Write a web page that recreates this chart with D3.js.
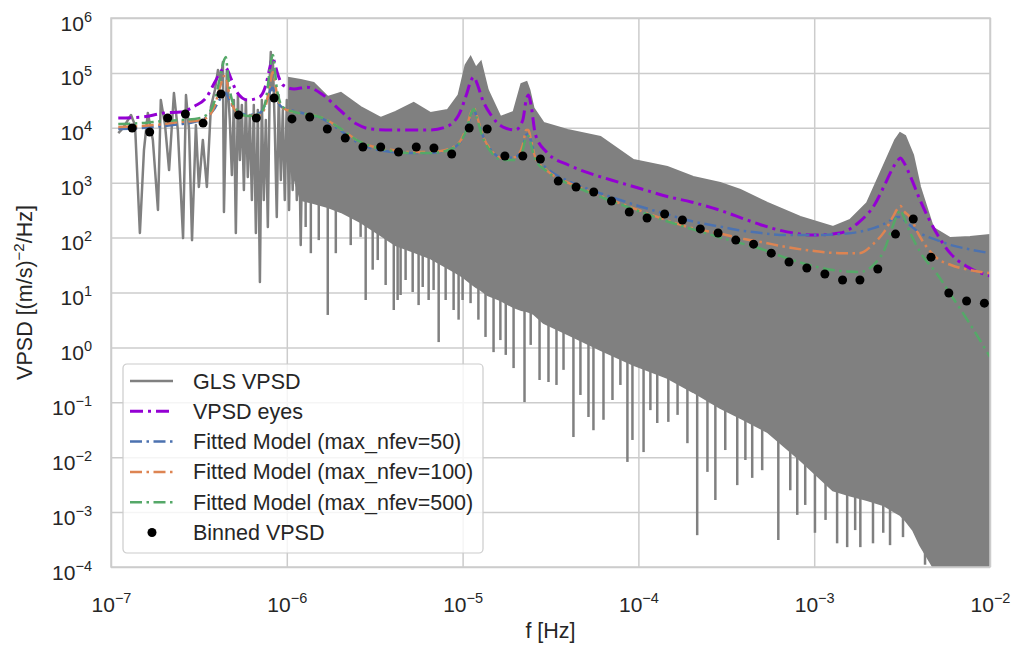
<!DOCTYPE html>
<html>
<head>
<meta charset="utf-8">
<script src="https://cdn.jsdelivr.net/npm/d3@7/dist/d3.min.js"></script>
<style>
  body { margin: 0; background: #fff; }
  svg { font-family: "Liberation Sans", Arial, sans-serif; }
</style>
</head>
<body>
<svg id="chart" width="1014" height="645"></svg>
<script>
// ---- data ----
const xTickVals = [1e-7, 1e-6, 1e-5, 1e-4, 1e-3, 1e-2];
const yTickVals = [1e-4, 1e-3, 1e-2, 1e-1, 1e0, 1e1, 1e2, 1e3, 1e4, 1e5, 1e6];

// GLS periodogram, low-frequency part (individual strokes)
const glsLowFreq = [1.10e-7,1.17e-7,1.30e-7,1.37e-7,1.46e-7,1.54e-7,1.62e-7,1.73e-7,1.85e-7,1.92e-7,
  2.03e-7,2.14e-7,2.28e-7,2.40e-7,2.57e-7,2.67e-7,2.78e-7,2.89e-7,3.04e-7,3.16e-7,
  3.33e-7,3.51e-7,3.70e-7,3.90e-7,4.06e-7,4.22e-7,4.33e-7,4.39e-7,4.56e-7,
  4.74e-7,4.87e-7,5.00e-7,5.13e-7,5.27e-7,5.41e-7,5.55e-7,5.70e-7,5.85e-7,6.00e-7,
  6.16e-7,6.33e-7,6.49e-7,6.67e-7,6.84e-7,7.03e-7,7.21e-7,7.40e-7,7.60e-7,7.80e-7,
  8.01e-7,8.11e-7,8.22e-7,8.33e-7,8.55e-7,8.77e-7,9.00e-7,9.25e-7,9.49e-7,9.74e-7,
  1.00e-6,1.03e-6,1.05e-6,1.08e-6,1.11e-6,1.14e-6,1.17e-6,1.20e-6,1.23e-6];
const glsLowVpsd = [8.0e3,9.9e3,1.71e4,1.12e4,121,3.94e3,1.86e4,6.0e3,318,3.21e4,
  1.12e4,1.70e3,4.31e4,9.1e3,98,3.96e4,9.1e3,90,1.12e4,835,
  6.0e3,835,2.39e4,4.89e4,1.13e5,7.43e4,1.58e5,293,1.13e5,
  1.39e4,1.38e3,3.21e4,121,3.96e4,2.59e3,2.60e4,736,3.21e4,1.27e3,
  1.71e4,484,2.60e4,121,2.11e4,15.5,3.21e4,484,1.39e4,156,
  9.16e4,2.40e5,4.89e4,1.72e5,9.1e3,237,3.96e4,1.12e3,2.11e4,484,
  3.21e4,318,1.71e4,736,2.60e4,484,2.11e4,73,1.39e4];

// GLS periodogram, dense part: top edge and bottom of the solid band
const bandFreq = [1.03e-6,1.20e-6,1.42e-6,1.71e-6,2.03e-6,2.63e-6,3.42e-6,4.16e-6,5.27e-6,6.58e-6,
  8.22e-6,9.49e-6,1.04e-5,1.11e-5,1.19e-5,1.27e-5,1.39e-5,1.64e-5,1.95e-5,2.16e-5,
  2.31e-5,2.40e-5,2.53e-5,2.89e-5,3.95e-5,6.08e-5,9.37e-5,1.46e-4,2.05e-4,2.92e-4,
  3.80e-4,5.41e-4,8.33e-4,1.28e-3,1.60e-3,2.00e-3,2.47e-3,2.89e-3,3.08e-3,3.29e-3,
  3.65e-3,4.00e-3,4.75e-3,5.93e-3,7.70e-3,1e-2];
const bandTop = [8.07e4,7.43e4,6.55e4,3.64e4,4.31e4,2.39e4,1.51e4,1.94e4,2.83e4,1.86e4,
  2.11e4,3.96e4,1.39e5,1.95e5,1.23e5,1.58e5,4.89e4,1.57e4,1.94e4,6.28e4,
  6.82e4,4.89e4,2.30e4,1.22e4,9.1e3,6.8e3,2.59e3,1.93e3,1.27e3,989,
  736,427,237,156,209,427,1.93e3,6.0e3,8.0e3,7.1e3,
  3.20e3,835,150,98,103,111];
const bandBase = [2.59e3,484,427,361,293,192,111,73,55,42,
  28,21.7,17.6,14.9,12.6,11.1,9.0,7.3,5.4,4.8,
  4.6,4.4,4.1,2.8,1.75,0.90,0.48,0.28,0.154,0.079,
  0.052,0.029,0.0089,0.0025,0.0020,0.00166,0.00135,0.00100,0.00089,0.00072,
  0.00047,0.00025,1e-4,1e-4,1e-4,1e-4];

// deep dips below the band
const dipFreq = [1.28e-6,1.37e-6,1.52e-6,1.71e-6,1.90e-6,2.31e-6,2.63e-6,2.81e-6,3.08e-6,3.29e-6,
  3.65e-6,4.06e-6,4.27e-6,4.44e-6,4.74e-6,5.20e-6,5.62e-6,5.93e-6,6.41e-6,6.84e-6,
  7.31e-6,8.01e-6,8.89e-6,9.49e-6,1.00e-5,1.11e-5,1.23e-5,1.35e-5,1.50e-5,1.64e-5,
  1.76e-5,1.95e-5,2.25e-5,2.44e-5,2.74e-5,3.08e-5,3.42e-5,3.75e-5,4.27e-5,4.68e-5,
  5.20e-5,5.55e-5,6.33e-5,7.12e-5,7.90e-5,8.66e-5,9.25e-5,1.07e-4,1.17e-4,1.28e-4,
  1.48e-4,1.67e-4,1.90e-4,2.16e-4,2.47e-4,2.74e-4,3.12e-4,3.65e-4,4.06e-4,4.44e-4,
  5.06e-4,6.25e-4,7.31e-4,8.01e-4,8.89e-4,1.01e-3,1.16e-3,1.35e-3,1.54e-3,1.71e-3,
  1.83e-3,2.16e-3,2.47e-3,2.70e-3,3.20e-3,3.85e-3,4.27e-3];
const dipVpsd = [156,52,90,3.9,52,73,103,7.3,26,39,
  13.7,4.8,7.3,9.0,16.9,10.2,5.9,12.6,7.3,11.1,
  1.25,7.3,4.8,3.2,7.3,6.4,3.2,1.55,0.82,1.36,
  0.73,0.42,0.101,1.11,0.255,0.234,0.207,0.39,0.0233,0.136,
  0.054,0.031,0.048,0.110,0.207,0.0082,0.0206,0.0124,0.072,0.042,
  0.044,0.059,0.018,3.8e-4,0.0054,0.00166,0.0135,0.0031,0.0089,0.0042,
  0.0058,3.1e-4,0.0025,8.9e-4,0.00135,4.2e-4,7.2e-4,2.7e-4,2.3e-4,4.7e-4,
  2.3e-4,2.7e-4,4.2e-4,2.5e-4,3.5e-4,3.5e-4,1.1e-4];

// model curves, sampled at the same frequencies
const modelFreq = [1.1e-7,1.5e-7,2e-7,2.5e-7,3e-7,3.5e-7,3.9e-7,4.2e-7,4.4e-7,4.5e-7,
  4.6e-7,4.8e-7,5.2e-7,6e-7,7e-7,7.6e-7,8e-7,8.2e-7,8.35e-7,8.5e-7,
  8.8e-7,9.5e-7,1.1e-6,1.3e-6,1.6e-6,2e-6,2.5e-6,3e-6,4e-6,5e-6,
  6.5e-6,8e-6,9.5e-6,1.05e-5,1.12e-5,1.16e-5,1.2e-5,1.3e-5,1.45e-5,1.7e-5,
  2e-5,2.2e-5,2.3e-5,2.37e-5,2.45e-5,2.6e-5,3e-5,4e-5,5e-5,7e-5,
  1e-4,1.5e-4,2e-4,3e-4,4e-4,5e-4,7e-4,1e-3,1.4e-3,1.8e-3,
  2.2e-3,2.5e-3,2.8e-3,3e-3,3.1e-3,3.2e-3,3.5e-3,4e-3,5e-3,6e-3,
  7.5e-3,1e-2];
const eyesVpsd = [1.51e4,1.57e4,1.86e4,1.94e4,2.50e4,3.64e4,6.82e4,1.04e5,1.23e5,1.23e5,
  1.13e5,8.07e4,4.49e4,3.21e4,3.64e4,6.02e4,1.23e5,1.72e5,1.87e5,1.58e5,
  1.04e5,6.02e4,5.09e4,5.5e4,4.0e4,2.11e4,1.17e4,9.5e3,9.1e3,9.1e3,
  9.1e3,1.03e4,1.71e4,3.96e4,7.43e4,8.41e4,6.82e4,3.21e4,1.71e4,1.03e4,
  9.1e3,1.39e4,3.21e4,3.96e4,2.60e4,7.4e3,3.62e3,2.10e3,1.57e3,1.12e3,
  800,549,445,305,218,170,127,111,121,192,
  393,871,1.85e3,2.59e3,2.82e3,2.48e3,1.38e3,484,116,50,
  29,20];
const fit50Vpsd = [9.5e3,9.9e3,1.08e4,1.17e4,1.28e4,1.57e4,2.30e4,3.49e4,4.31e4,4.31e4,
  3.79e4,2.83e4,2.02e4,1.71e4,1.86e4,2.83e4,4.49e4,5.31e4,5.31e4,4.49e4,
  3.21e4,2.30e4,2.02e4,1.78e4,1.45e4,9.1e3,5.51e3,4.29e3,3.62e3,3.47e3,
  3.47e3,3.78e3,5.07e3,9.1e3,1.78e4,2.11e4,1.64e4,7.4e3,3.94e3,2.82e3,
  2.94e3,4.47e3,7.4e3,7.7e3,5.75e3,2.94e3,1.85e3,1.07e3,800,549,
  377,258,200,156,132,121,111,111,116,127,
  150,177,218,237,237,218,170,121,90,73,
  62,52];
const fit100Vpsd = [1.03e4,1.08e4,1.17e4,1.28e4,1.33e4,1.51e4,2.60e4,6.02e4,8.79e4,8.79e4,
  6.02e4,3.21e4,1.94e4,1.64e4,1.71e4,2.60e4,6.02e4,9.16e4,1.04e5,8.07e4,
  3.96e4,2.30e4,1.94e4,1.78e4,1.51e4,9.9e3,6.0e3,4.66e3,3.94e3,3.62e3,
  3.62e3,3.94e3,5.28e3,9.9e3,1.94e4,2.30e4,1.71e4,7.4e3,3.94e3,2.82e3,
  2.94e3,4.86e3,9.1e3,9.1e3,6.0e3,2.82e3,1.70e3,989,736,484,
  318,200,150,116,94,83,67,57,52,52,
  80,127,237,346,377,318,237,103,42,31.7,
  26,22.6];
const fit500Vpsd = [1.17e4,1.22e4,1.33e4,1.39e4,1.45e4,1.71e4,3.21e4,9.16e4,1.72e5,1.95e5,
  1.13e5,3.96e4,2.11e4,1.64e4,1.78e4,3.21e4,1.13e5,1.87e5,2.12e5,1.39e5,
  4.89e4,2.39e4,1.94e4,1.78e4,1.51e4,9.9e3,6.0e3,4.66e3,3.78e3,3.47e3,
  3.47e3,3.78e3,5.07e3,9.1e3,1.86e4,2.20e4,1.57e4,6.8e3,3.62e3,2.59e3,
  2.59e3,3.94e3,6.8e3,7.1e3,4.86e3,2.59e3,1.63e3,947,706,465,
  305,192,144,98,76,62,42,30,24.7,23.6,
  33,59,163,281,318,258,127,55,21.7,9.0,
  3.03,0.67];

// binned periodogram
const binFreq = [1.32e-7,1.66e-7,2.10e-7,2.65e-7,3.34e-7,4.22e-7,5.32e-7,6.71e-7,8.47e-7,1.07e-6,
  1.35e-6,1.70e-6,2.15e-6,2.71e-6,3.42e-6,4.32e-6,5.45e-6,6.87e-6,8.67e-6,1.09e-5,
  1.38e-5,1.74e-5,2.20e-5,2.77e-5,3.50e-5,4.42e-5,5.57e-5,7.03e-5,8.87e-5,1.12e-4,
  1.41e-4,1.78e-4,2.25e-4,2.84e-4,3.58e-4,4.52e-4,5.70e-4,7.19e-4,9.08e-4,1.15e-3,
  1.45e-3,1.82e-3,2.30e-3,2.90e-3,3.66e-3,4.62e-3,5.83e-3,7.36e-3,9.29e-3];
const binVpsd = [9.9e3,8.4e3,1.51e4,1.78e4,1.22e4,4.13e4,1.71e4,1.51e4,3.49e4,1.45e4,
  1.57e4,9.5e3,6.5e3,4.47e3,4.47e3,3.62e3,4.47e3,4.29e3,3.33e3,9.9e3,
  9.5e3,3.06e3,3.06e3,2.70e3,1.07e3,836,678,465,293,228,
  269,209,144,121,90,76,52,36,28,21.7,
  16.9,16.9,26.8,116,218,44,9.8,7.0,6.4];

const legendLabels = ["GLS VPSD", "VPSD eyes", "Fitted Model (max_nfev=50)",
  "Fitted Model (max_nfev=100)", "Fitted Model (max_nfev=500)", "Binned VPSD"];

// ---- layout ----
const margin = { top: 18, right: 24, bottom: 78, left: 111 };
const width = 1014 - margin.left - margin.right;   // 879
const height = 645 - margin.top - margin.bottom;   // 549
const grey = "#808080", gridCol = "#cccccc", textCol = "#262626";

const svg = d3.select("#chart");
const g = svg.append("g").attr("transform", `translate(${margin.left},${margin.top})`);

const x = d3.scaleLog().domain([1e-7, 1e-2]).range([0, width]);
const y = d3.scaleLog().domain([1e-4, 1e6]).range([height, 0]);

const supText = (sel, d) => {
  const e = Math.round(Math.log10(d));
  sel.text(null);
  sel.append("tspan").text("10");
  sel.append("tspan").attr("dy", -9).attr("font-size", 14.5)
    .text(e < 0 ? "\u2212" + (-e) : String(e));
};

// grid + axes
const xAxis = g.append("g").attr("transform", `translate(0,${height})`)
  .call(d3.axisBottom(x).tickValues(xTickVals).tickSize(-height).tickSizeOuter(0));
xAxis.selectAll(".tick line").attr("stroke", gridCol).attr("stroke-width", 1.5);
xAxis.selectAll(".tick text").attr("y", 45).attr("dy", null)
  .attr("font-size", 21).attr("fill", textCol)
  .each(function (d) { supText(d3.select(this), d); });
xAxis.select(".domain").remove();

const yAxis = g.append("g")
  .call(d3.axisLeft(y).tickValues(yTickVals).tickSize(-width).tickSizeOuter(0));
yAxis.selectAll(".tick line").attr("stroke", gridCol).attr("stroke-width", 1.5);
yAxis.selectAll(".tick text").attr("x", -19).attr("dy", 12)
  .attr("font-size", 21).attr("fill", textCol)
  .each(function (d) { supText(d3.select(this), d); });
yAxis.select(".domain").remove();
svg.selectAll(".tick").attr("font-family", null);

// clip
svg.append("defs").append("clipPath").attr("id", "plotClip")
  .append("rect").attr("width", width).attr("height", height);
const plot = g.append("g").attr("clip-path", "url(#plotClip)");

// GLS VPSD
const lowPts = glsLowFreq.map((f, i) => [f, glsLowVpsd[i]]);
plot.append("path").datum(lowPts)
  .attr("fill", "none").attr("stroke", grey).attr("stroke-width", 2.5)
  .attr("stroke-linejoin", "round")
  .attr("d", d3.line().x(d => x(d[0])).y(d => y(d[1])));

const bandPts = bandFreq.map((f, i) => [f, bandTop[i], bandBase[i]]);
plot.append("path").datum(bandPts)
  .attr("fill", grey).attr("stroke", grey).attr("stroke-width", 2)
  .attr("d", d3.area().x(d => x(d[0])).y0(d => y(d[2])).y1(d => y(d[1])));

const baseAt = d3.scaleLinear().domain(bandFreq.map(f => x(f))).range(bandBase.map(v => y(v))).clamp(true);
plot.append("g").selectAll("line")
  .data(dipFreq.map((f, i) => [f, dipVpsd[i]]))
  .join("line")
  .attr("x1", d => x(d[0])).attr("x2", d => x(d[0]))
  .attr("y1", d => y(d[1])).attr("y2", d => baseAt(x(d[0])) - 6)
  .attr("stroke", grey).attr("stroke-width", 2.5);

// models
const series = [
  { vals: eyesVpsd, color: "#9400d3", w: 3, dash: "13,5,3,5" },
  { vals: fit50Vpsd, color: "#4c72b0", w: 2.5, dash: "12,4.5,2.5,4.5" },
  { vals: fit100Vpsd, color: "#dd8452", w: 2.5, dash: "12,4.5,2.5,4.5" },
  { vals: fit500Vpsd, color: "#55a868", w: 2.5, dash: "12,4.5,2.5,4.5" }
];
const modelLine = d3.line().x(d => x(d[0])).y(d => y(d[1])).curve(d3.curveMonotoneX);
series.forEach(s => {
  plot.append("path").datum(modelFreq.map((f, i) => [f, s.vals[i]]))
    .attr("fill", "none").attr("stroke", s.color).attr("stroke-width", s.w)
    .attr("stroke-dasharray", s.dash).attr("d", modelLine);
});

// binned dots
plot.append("g").selectAll("circle")
  .data(binFreq.map((f, i) => [f, binVpsd[i]]))
  .join("circle")
  .attr("cx", d => x(d[0])).attr("cy", d => y(d[1])).attr("r", 4.5)
  .attr("fill", "#000");

// frame
g.append("rect").attr("width", width).attr("height", height)
  .attr("fill", "none").attr("stroke", gridCol).attr("stroke-width", 1.5);

// axis titles
svg.append("text").attr("x", margin.left + width / 2).attr("y", 638)
  .attr("text-anchor", "middle").attr("font-size", 21.5).attr("fill", textCol)
  .text("f [Hz]");
const yt = svg.append("text")
  .attr("transform", `translate(32,${margin.top + height / 2}) rotate(-90)`)
  .attr("text-anchor", "middle").attr("font-size", 21.5).attr("fill", textCol);
yt.append("tspan").text("VPSD [(m/s)");
yt.append("tspan").attr("dy", -8).attr("font-size", 15).text("\u22122");
yt.append("tspan").attr("dy", 8).text("/Hz]");

// legend
const lg = svg.append("g").attr("transform", "translate(123,364)");
lg.append("rect").attr("width", 360).attr("height", 189).attr("rx", 4)
  .attr("fill", "#fff").attr("fill-opacity", 0.8)
  .attr("stroke", gridCol).attr("stroke-width", 1.2);
const handles = [{ color: grey, w: 2.5, dash: null }].concat(series);
legendLabels.forEach((lab, i) => {
  const cy = 17 + i * 30.3;
  if (i < 5) {
    const h = handles[i];
    lg.append("line").attr("x1", 7).attr("x2", 50).attr("y1", cy).attr("y2", cy)
      .attr("stroke", h.color).attr("stroke-width", h.w)
      .attr("stroke-dasharray", h.dash);
  } else {
    lg.append("circle").attr("cx", 29).attr("cy", cy).attr("r", 4.5).attr("fill", "#000");
  }
  lg.append("text").attr("x", 70).attr("y", cy + 7.5).attr("font-size", 21.5)
    .attr("fill", textCol).text(lab);
});
</script>
</body>
</html>
